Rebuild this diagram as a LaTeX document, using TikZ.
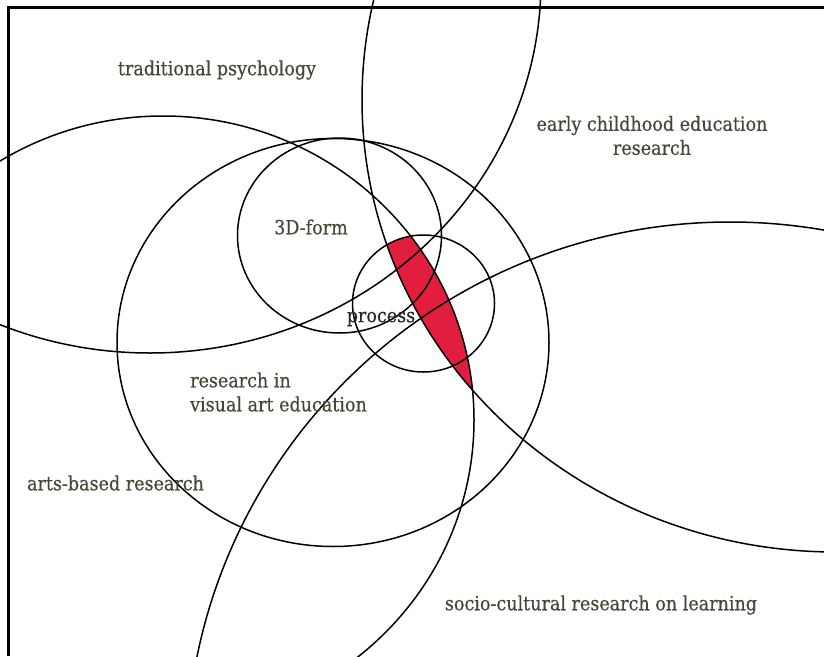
\documentclass[tikz,border=0pt]{standalone}
\usepackage{fontspec}
\setmainfont{DejaVu Serif}[FakeStretch=0.9,FakeBold=0.4]
\definecolor{lbl}{RGB}{72,68,54}
\definecolor{redfill}{RGB}{226,30,62}
\begin{document}
\begin{tikzpicture}[x=1pt,y=-1pt,
  ring/.style={line width=1.5pt, draw=black},
  frameline/.style={line width=3pt, draw=black},
  lab/.style={text=lbl, font=\fontsize{19.5}{24}\selectfont, inner sep=0pt}]
\useasboundingbox (0,0) rectangle (824,656);
\begin{scope}
\clip (0,0) rectangle (824,656);
% red lens
\begin{scope}
\clip (836,100) ellipse [x radius=474, y radius=452];
\clip (163,420) ellipse [x radius=311, y radius=304];
\fill[redfill] (423.5,303.5) ellipse [x radius=71, y radius=68.5];
\fill[redfill] (300,303.5) rectangle (600,656);
\end{scope}
% circles
\draw[ring] (150,-19) ellipse [x radius=391, y radius=372];   % upper-left big
\draw[ring] (163,420) ellipse [x radius=311, y radius=304];   % left big
\draw[ring] (836,100) ellipse [x radius=474, y radius=452];   % early childhood
\draw[ring] (730,766) ellipse [x radius=544, y radius=544];   % socio-cultural
\draw[ring] (333,342.5) ellipse [x radius=216, y radius=204]; % visual art education
\draw[ring] (339.5,235.5) ellipse [x radius=102, y radius=97.5]; % 3D-form
\draw[ring] (423.5,303.5) ellipse [x radius=71, y radius=68.5];  % process
% frame
\draw[frameline] (7,7.5) -- (824,7.5);
\draw[frameline] (8.5,6) -- (8.5,656);
\end{scope}
% labels
\node[lab] (trad) at (217,70) {traditional psychology};
\node[lab, align=center] (early) at (652,135.5) {early childhood education\\research};
\node[lab] (form) at (311,227) {3D-form};
\node[lab, text=black!85] (proc) at (381,319) {process};
\node[lab, align=left] (vae) at (278.5,392) {research in\\visual art education};
\node[lab] (arts) at (115.5,483) {arts-based research};
\node[lab] (socio) at (601,605) {socio-cultural research on learning};
\end{tikzpicture}
\end{document}
